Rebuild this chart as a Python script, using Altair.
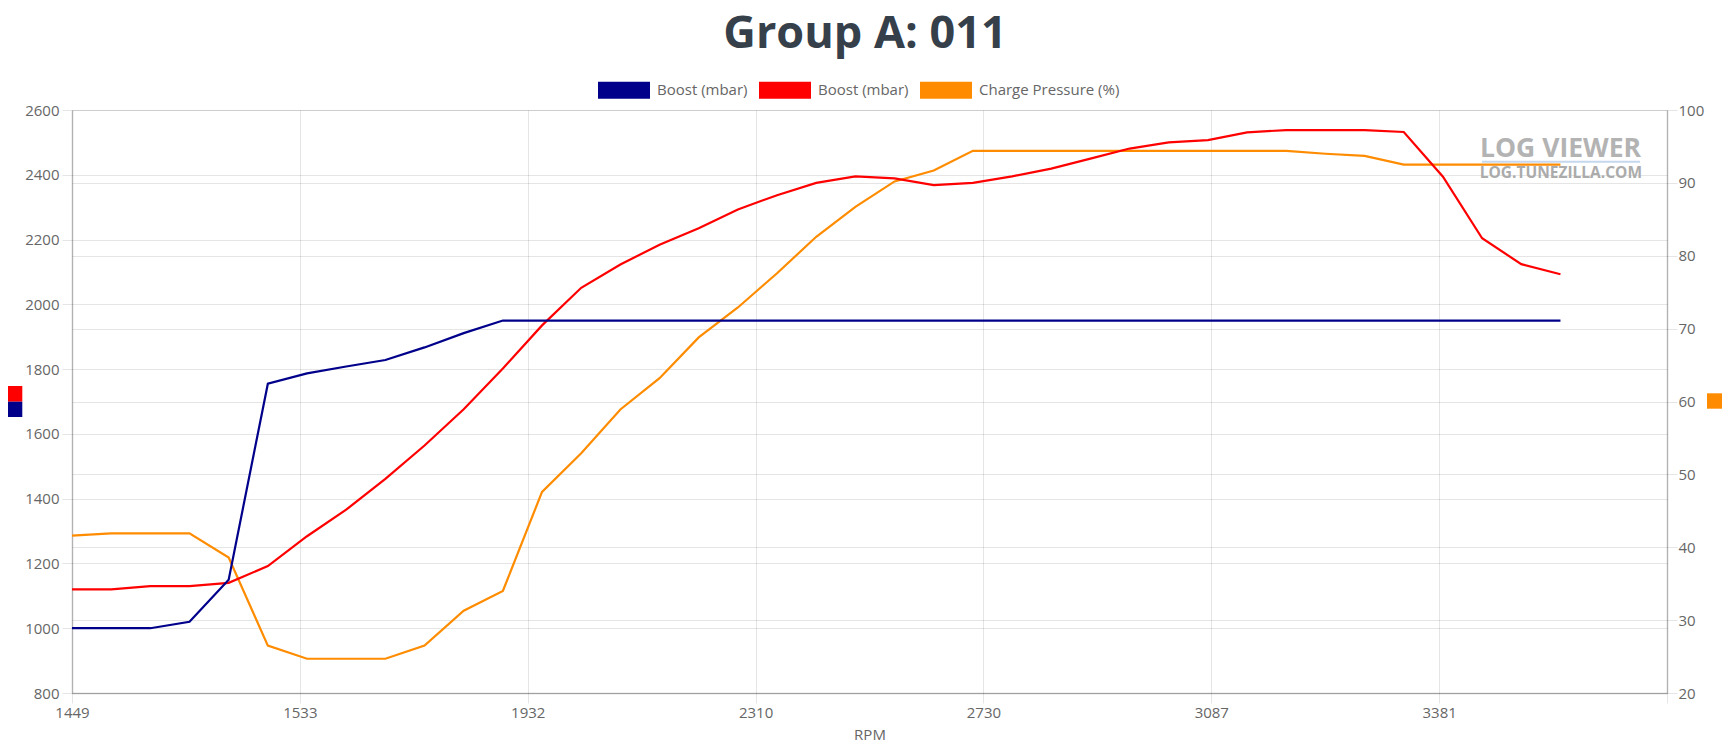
import json
import altair as alt
import pandas as pd

# ---------------- data ----------------
rpm_ticks = ["1449", "1533", "1932", "2310", "2730", "3087", "3381"]

boost_spec = [1000, 1000, 1000, 1020, 1150, 1755, 1787, 1808, 1828, 1867,
              1911, 1950, 1950, 1950, 1950, 1950, 1950, 1950, 1950, 1950,
              1950, 1950, 1950, 1950, 1950, 1950, 1950, 1950, 1950, 1950,
              1950, 1950, 1950, 1950, 1950, 1950, 1950, 1950, 1950]

boost_actual = [1120, 1120, 1130, 1130, 1140, 1192, 1284, 1366, 1461, 1564,
                1676, 1802, 1935, 2051, 2123, 2184, 2235, 2293, 2337, 2375,
                2395, 2389, 2368, 2375, 2395, 2419, 2450, 2481, 2500, 2507,
                2531, 2538, 2538, 2538, 2532, 2394, 2204, 2124, 2093]

charge_pressure = [41.6, 41.9, 41.9, 41.9, 38.6, 26.5, 24.7, 24.7, 24.7, 26.5,
                   31.3, 34.0, 47.6, 52.9, 58.9, 63.2, 68.8, 72.9, 77.6, 82.6,
                   86.7, 90.2, 91.7, 94.4, 94.4, 94.4, 94.4, 94.4, 94.4, 94.4,
                   94.4, 94.4, 94.0, 93.7, 92.5, 92.5, 92.5, 92.5, 92.5]

series_keys = ["spec", "actual", "charge"]
series_labels = ["Boost (mbar)", "Boost (mbar)", "Charge Pressure (%)"]
series_colors = ["#00008B", "#FF0000", "#FF8C00"]

title_text = "Group A: 011"
x_title = "RPM"
wm_main = "LOG VIEWER"
wm_sub = "LOG.TUNEZILLA.COM"

# ---------------- tables ----------------
n = len(boost_spec)
idx = list(range(n))
boost_df = pd.DataFrame({
    "idx": idx * 2,
    "series": ["actual"] * n + ["spec"] * n,
    "value": boost_actual + boost_spec,
})
charge_df = pd.DataFrame({"idx": idx, "value": charge_pressure})
legend_df = pd.DataFrame({"series": series_keys,
                          "idx": [None] * 3, "value": [None] * 3})

FONT = "Open Sans"
GREY = "#666666"

X_MAX = 40.72
step = X_MAX / 7
tick_vals = [step * k for k in range(8)]
label_expr = json.dumps(rpm_ticks + [""]) + f"[round(datum.value / {step})]"
legend_label_expr = (json.dumps(series_labels) + "[indexof(" +
                     json.dumps(series_keys) + ", datum.value)]")

x_enc = alt.X(
    "idx:Q",
    scale=alt.Scale(domain=[0, X_MAX], nice=False, zero=False),
    axis=alt.Axis(values=tick_vals, labelExpr=label_expr, title=x_title,
                  grid=True, labelFlush=False, labelOverlap=False,
                  labelPadding=2, titleY=46, titleBaseline="alphabetic"),
)

y_left = alt.Y(
    "value:Q",
    scale=alt.Scale(domain=[800, 2600], nice=False, zero=False),
    axis=alt.Axis(orient="left", values=list(range(800, 2601, 200)),
                  format="d", title=None, grid=True, labelPadding=3,
                  labelOverlap=False),
)
y_right = alt.Y(
    "value:Q",
    scale=alt.Scale(domain=[20, 100], nice=False, zero=False),
    axis=alt.Axis(orient="right", values=list(range(20, 101, 10)),
                  format="d", title=None, grid=True, labelPadding=1,
                  labelOverlap=False),
)

legend = alt.Legend(
    orient="none", legendX=526, legendY=-46, direction="horizontal",
    title=None, symbolType="M-1,-0.33L1,-0.33L1,0.33L-1,0.33Z",
    symbolSize=2704, symbolStrokeWidth=0, symbolOpacity=1,
    labelExpr=legend_label_expr,
    labelFont=FONT, labelFontSize=15, labelColor=GREY, labelOffset=7,
    columnPadding=11, padding=0,
)

legend_layer = alt.Chart(legend_df).mark_square(
    filled=True, clip=True, opacity=1
).encode(
    x=x_enc, y=y_left,
    color=alt.Color("series:N",
                    scale=alt.Scale(domain=series_keys, range=series_colors),
                    legend=legend),
)

red_line = alt.Chart(boost_df).transform_filter(
    alt.datum.series == "actual"
).mark_line(color=series_colors[1], strokeWidth=2.2).encode(x=x_enc, y=y_left)

blue_line = alt.Chart(boost_df).transform_filter(
    alt.datum.series == "spec"
).mark_line(color=series_colors[0], strokeWidth=2.2).encode(x=x_enc, y=y_left)

boost_layer = alt.layer(legend_layer, red_line, blue_line)

charge_line = alt.Chart(charge_df).mark_line(
    color=series_colors[2], strokeWidth=2.2
).encode(x=x_enc, y=y_right)

# ---------------- decorations ----------------
one = pd.DataFrame({"t": [title_text]})
title_mark = alt.Chart(one).mark_text(
    font=FONT, fontSize=45, fontWeight="bold", color="#36404a",
    align="center", baseline="alphabetic",
).encode(x=alt.value(793), y=alt.value(-62), text="t:N")

wm1 = alt.Chart(pd.DataFrame({"t": [wm_main]})).mark_text(
    font=FONT, fontSize=26.5, fontWeight="bold", color="#b3b3b3",
    align="right", baseline="alphabetic",
).encode(x=alt.value(1569), y=alt.value(46.5), text="t:N")

wm2 = alt.Chart(pd.DataFrame({"t": [wm_sub]})).mark_text(
    font=FONT, fontSize=15.5, fontWeight="bold", color="#ababab",
    align="right", baseline="alphabetic",
).encode(x=alt.value(1570), y=alt.value(68.3), text="t:N")

wm_rule = alt.Chart(one).mark_rule(color="#c5d8ee", strokeWidth=2).encode(
    x=alt.value(1410), x2=alt.value(1568), y=alt.value(51.7)
)

sq_red = alt.Chart(one).mark_rect(color=series_colors[1]).encode(
    x=alt.value(-64.7), x2=alt.value(-49.7), y=alt.value(276), y2=alt.value(291.7))
sq_blue = alt.Chart(one).mark_rect(color=series_colors[0]).encode(
    x=alt.value(-64.7), x2=alt.value(-49.7), y=alt.value(291.7), y2=alt.value(307))
sq_orange = alt.Chart(one).mark_rect(color=series_colors[2]).encode(
    x=alt.value(1635), x2=alt.value(1650), y=alt.value(283.3), y2=alt.value(298.7))

chart = alt.layer(
    wm1, wm2, wm_rule, charge_line, boost_layer,
    title_mark, sq_red, sq_blue, sq_orange,
).resolve_scale(
    y="independent"
).properties(
    width=1595, height=583,
    autosize=alt.AutoSizeParams(type="none"),
    padding={"left": 64, "top": 102, "right": 55, "bottom": 49},
).configure_view(
    stroke=None
).configure_axis(
    labelFont=FONT, labelFontSize=15, labelColor=GREY,
    titleFont=FONT, titleFontSize=15, titleColor=GREY, titleFontWeight="normal",
    gridColor="#000000", gridOpacity=0.1,
    tickColor="#000000", tickOpacity=0.1, tickSize=10,
    domainColor="#000000", domainOpacity=0.22, domainWidth=1.5,
)

chart.save("out.html", embed_options={"renderer": "svg", "actions": False})
